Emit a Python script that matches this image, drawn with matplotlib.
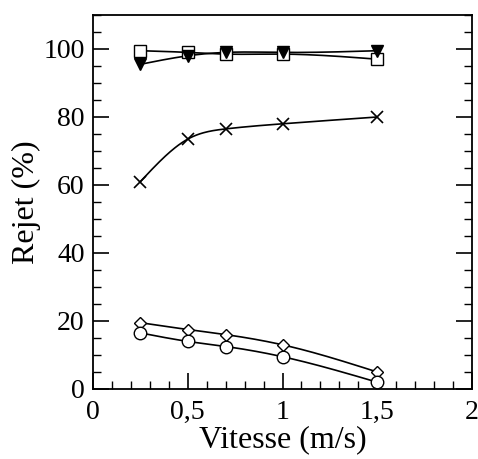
import numpy as np
import matplotlib
matplotlib.use("Agg")
import matplotlib.pyplot as plt
from matplotlib.ticker import MultipleLocator, FuncFormatter

plt.rcParams['font.family'] = ['Liberation Serif', 'DejaVu Serif']

vitesse = [0.25, 0.5, 0.7, 1.0, 1.5]
carres = [99.5, 99.0, 98.5, 98.5, 97.0]
triangles = [95.5, 98.0, 99.0, 99.0, 99.5]
croix = [61.0, 73.5, 76.5, 78.0, 80.0]
losanges = [19.5, 17.5, 16.0, 13.0, 5.0]
cercles = [16.5, 14.0, 12.5, 9.5, 2.0]


def spline(x, y, n=200):
    """Natural cubic spline through the points (for drawing the smooth line)."""
    x = np.asarray(x, float)
    y = np.asarray(y, float)
    N = len(x)
    h = np.diff(x)
    A = np.zeros((N, N))
    b = np.zeros(N)
    A[0, 0] = 1
    A[-1, -1] = 1
    for i in range(1, N - 1):
        A[i, i - 1] = h[i - 1]
        A[i, i] = 2 * (h[i - 1] + h[i])
        A[i, i + 1] = h[i]
        b[i] = 3 * ((y[i + 1] - y[i]) / h[i] - (y[i] - y[i - 1]) / h[i - 1])
    c = np.linalg.solve(A, b)
    bb = (y[1:] - y[:-1]) / h - h * (2 * c[:-1] + c[1:]) / 3
    d = (c[1:] - c[:-1]) / (3 * h)
    xs = np.linspace(x[0], x[-1], n)
    idx = np.clip(np.searchsorted(x, xs) - 1, 0, N - 2)
    dx = xs - x[idx]
    ys = y[idx] + bb[idx] * dx + c[idx] * dx**2 + d[idx] * dx**3
    return xs, ys


fig = plt.figure(figsize=(4.78, 4.59), dpi=100)
ax = fig.add_axes([93 / 478, 1 - 389 / 459, (472 - 93) / 478, (389 - 15) / 459])

series = [
    (carres, dict(marker='s', mfc='white', mec='black', ms=9, mew=1.0)),
    (triangles, dict(marker='v', mfc='black', mec='black', ms=8, mew=1.0)),
    (croix, dict(marker='x', mfc='none', mec='black', ms=9, mew=1.2)),
    (losanges, dict(marker='D', mfc='white', mec='black', ms=6, mew=1.0)),
    (cercles, dict(marker='o', mfc='white', mec='black', ms=9, mew=1.0)),
]
for ys, style in series:
    xs_s, ys_s = spline(vitesse, ys)
    ax.plot(xs_s, ys_s, color='black', lw=1.2, zorder=2)
    ax.plot(vitesse, ys, ls='none', zorder=3, **style)

ax.set_xlim(0, 2)
ax.set_ylim(0, 110)
ax.xaxis.set_major_locator(MultipleLocator(0.5))
ax.xaxis.set_minor_locator(MultipleLocator(0.1))
ax.yaxis.set_major_locator(MultipleLocator(20))
ax.yaxis.set_minor_locator(MultipleLocator(5))


def fmt(v, pos):
    return ('%g' % v).replace('.', ',')


ax.xaxis.set_major_formatter(FuncFormatter(fmt))
ax.tick_params(which='both', direction='in', right=True, top=False, labelsize=20, color='black')
ax.tick_params(which='major', length=11.5, width=1.2)
ax.tick_params(which='minor', length=6, width=1.0)
ax.tick_params(axis='x', which='major', pad=8)
ax.tick_params(axis='y', which='major', pad=6)
for s in ax.spines.values():
    s.set_linewidth(1.3)

ax.set_xlabel('Vitesse (m/s)', fontsize=23, labelpad=0)
ax.set_ylabel('Rejet (%)', fontsize=23, labelpad=2)

fig.savefig('out.png', dpi=100)
